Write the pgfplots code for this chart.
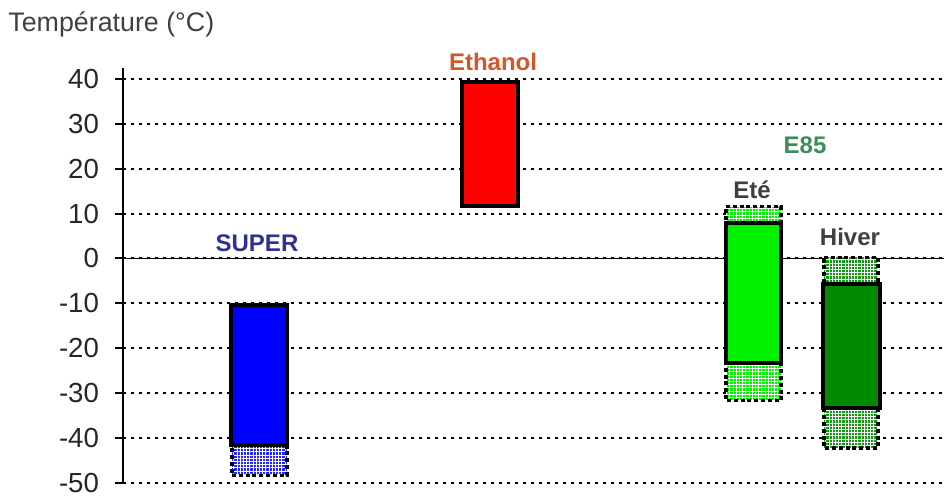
\documentclass[border=0pt]{standalone}
\usepackage{fontspec}
\setmainfont{Liberation Sans}
\usepackage{pgfplots}
\pgfplotsset{compat=1.18}
\usetikzlibrary{patterns,patterns.meta}
\definecolor{superc}{HTML}{2E3192}
\definecolor{ethc}{HTML}{D4552A}
\definecolor{e85c}{HTML}{3C8C5C}
\definecolor{labc}{HTML}{404040}
\definecolor{ete}{HTML}{00F000}
\definecolor{hiver}{HTML}{008A00}
\tikzset{
  solidbar/.style={draw=black, line width=2pt},
  hatchbar/.style={preaction={fill=#1}, pattern={Hatch[angle=0,distance=1.6pt,line width=0.3pt]}, pattern color=white, draw=black, line width=1.6pt, dash pattern=on 2pt off 1.4pt},
}
\begin{document}
\begin{tikzpicture}
\useasboundingbox (-61.5pt,-10pt) rectangle (410.5pt,241.5pt);
\begin{axis}[
  scale only axis, width=410.5pt, height=207.7pt,
  xmin=123, xmax=944, ymin=-50, ymax=42.5,
  clip=false,
  axis x line=none,
  axis y line=left,
  y axis line style={-, line width=1pt, black},
  xtick=\empty,
  ytick={-50,-40,-30,-20,-10,0,10,20,30,40},
  yticklabels={-50,-40,-30,-20,-10,0,10,20,30,40},
  yticklabel style={font=\fontsize{13.8}{15}\selectfont, text=black!85, xshift=-4.5pt},
  tick align=outside, major tick length=4pt,
  tick style={line width=1pt, black},
  ymajorgrids,
  major grid style={black, line width=1pt, dash pattern=on 1.5pt off 2.5pt},
]
% zero line
\addplot[black, line width=0.8pt] coordinates {(123,0) (944,0)};
% SUPER
\addplot[hatchbar=blue!85!white] coordinates {(232,-41.6) (287,-41.6) (287,-48.3) (232,-48.3)} -- cycle;
\addplot[solidbar, fill=blue] coordinates {(231,-10.4) (287,-10.4) (287,-41.6) (231,-41.6)} -- cycle;
% Ethanol
\addplot[solidbar, fill=red] coordinates {(462,39.3) (518,39.3) (518,11.7) (462,11.7)} -- cycle;
% Ete
\addplot[hatchbar=ete] coordinates {(726,11.5) (781,11.5) (781,7.9) (726,7.9)} -- cycle;
\addplot[hatchbar=ete] coordinates {(726,-23.3) (781,-23.3) (781,-31.7) (726,-31.7)} -- cycle;
\addplot[solidbar, fill=ete] coordinates {(726,7.9) (781,7.9) (781,-23.3) (726,-23.3)} -- cycle;
% Hiver
\addplot[hatchbar=hiver!90!white] coordinates {(824,0.3) (878,0.3) (878,-5.7) (824,-5.7)} -- cycle;
\addplot[hatchbar=hiver!90!white] coordinates {(824,-33.3) (878,-33.3) (878,-42.2) (824,-42.2)} -- cycle;
\addplot[solidbar, fill=hiver] coordinates {(823,-5.7) (880,-5.7) (880,-33.3) (823,-33.3)} -- cycle;
% labels
\node[font=\bfseries\fontsize{12}{14}\selectfont, text=ethc] at (axis cs:493,43.8) {Ethanol};
\node[font=\bfseries\fontsize{12}{14}\selectfont, text=superc] at (axis cs:257,3.5) {SUPER};
\node[font=\bfseries\fontsize{12}{14}\selectfont, text=e85c] at (axis cs:805,25.3) {E85};
\node[font=\bfseries\fontsize{12}{14}\selectfont, text=labc] at (axis cs:752,15.3) {Eté};
\node[font=\bfseries\fontsize{12}{14}\selectfont, text=labc] at (axis cs:850,4.8) {Hiver};
\end{axis}
\node[anchor=west, font=\fontsize{13.4}{15}\selectfont, text=labc, inner sep=0pt] at (-57.5pt,229.5pt) {Température (°C)};
\end{tikzpicture}
\end{document}
